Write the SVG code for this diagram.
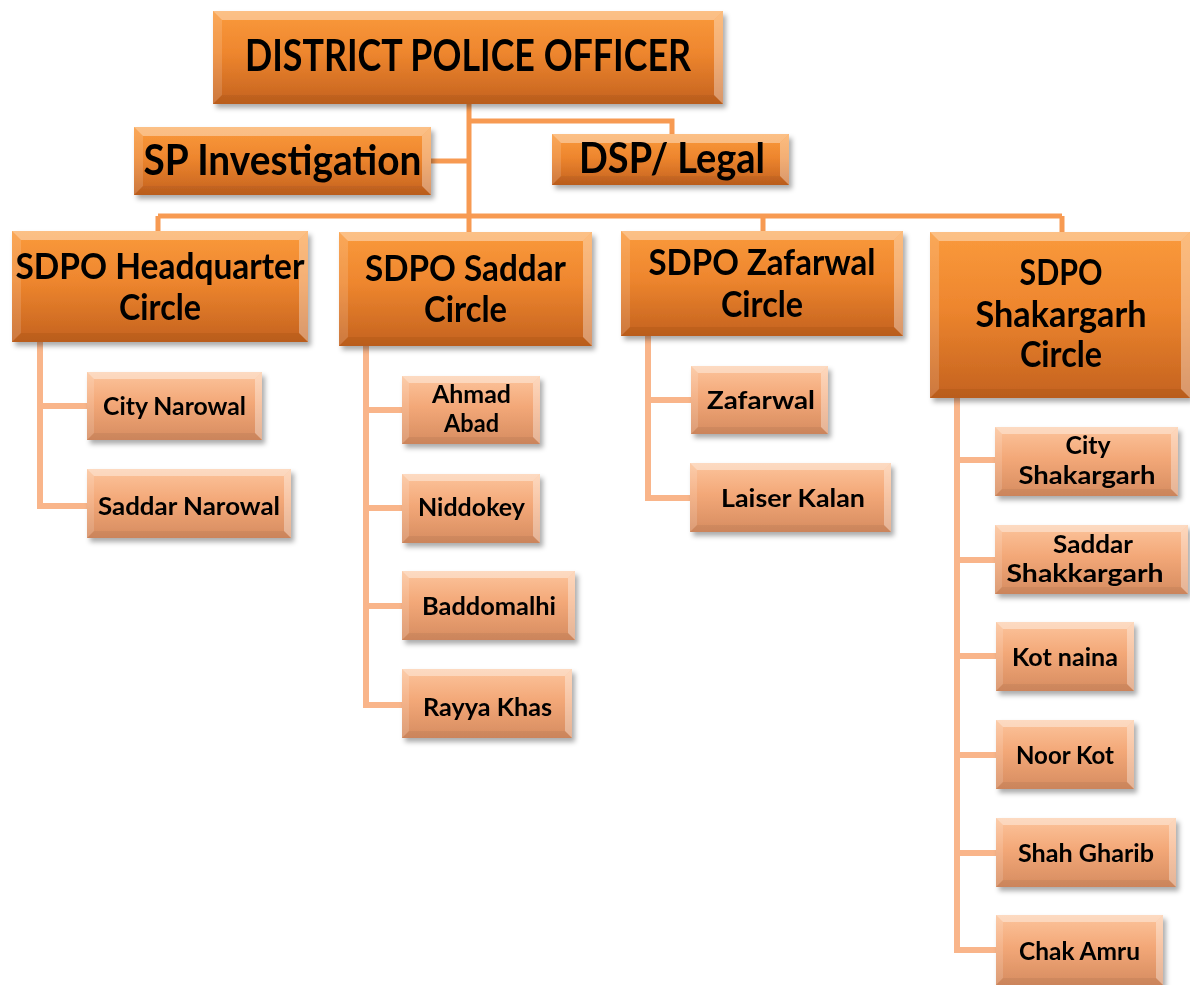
<svg xmlns="http://www.w3.org/2000/svg" width="1190" height="985" viewBox="0 0 1190 985">
<defs>
<linearGradient id="gBig" x1="0" y1="0" x2="0" y2="1">
<stop offset="0" stop-color="#FA9A3C"/>
<stop offset="0.45" stop-color="#EE862E"/>
<stop offset="1" stop-color="#C4621F"/>
</linearGradient>
<linearGradient id="gSmall" x1="0" y1="0" x2="0" y2="1">
<stop offset="0" stop-color="#FCC49C"/>
<stop offset="0.45" stop-color="#F3A878"/>
<stop offset="1" stop-color="#D68C60"/>
</linearGradient>
<filter id="sh" x="-10%" y="-10%" width="125%" height="135%">
<feDropShadow dx="3" dy="4" stdDeviation="2.5" flood-color="#000" flood-opacity="0.33"/>
</filter>
</defs>
<style>
.big{fill:url(#gBig)}
.small{fill:url(#gSmall)}
.bt{fill:#fff;fill-opacity:0.38}
.bl{fill:#fff;fill-opacity:0.14}
.br{fill:#fff;fill-opacity:0.34}
.bb{fill:#000;fill-opacity:0.05}
text{font-family:Lato,"Liberation Sans",sans-serif;font-weight:700;fill:#000;text-anchor:middle}
.t1{font-size:43px}
.t2{font-size:42px}
.t3{font-size:36px}
.t4{font-size:25px}
.c1{fill:none;stroke:#F79A52;stroke-width:5}
.c2{fill:none;stroke:#F9B58A;stroke-width:6}
</style>

<g id="connectors">
<path class="c1" d="M469,104 V232 M469,121 H672 V134 M431,161 H469 M158,216 H1062 M158,216 V231 M763,216 V231 M1062,216 V232"/>
<path class="c2" d="M40,342 V506 H87 M40,406 H87"/>
<path class="c2" d="M366,346 V705 H402 M366,410 H402 M366,508 H402 M366,606 H402"/>
<path class="c2" d="M648,336 V498 H690 M648,400 H691"/>
<path class="c2" d="M957,398 V950 H996 M957,460 H995 M957,560 H995 M957,656 H996 M957,755 H996 M957,853 H996"/>
</g>

<g id="dpo" transform="translate(213,11)" filter="url(#sh)">
<rect class="big" width="510" height="93"/>
<polygon class="bt" points="0,0 510,0 501,9 9,9"/><polygon class="bl" points="0,0 9,9 9,84 0,93"/><polygon class="br" points="510,0 510,93 501,84 501,9"/><polygon class="bb" points="0,93 510,93 501,84 9,84"/>
<text class="t1" x="255" y="60" textLength="446" lengthAdjust="spacingAndGlyphs">DISTRICT POLICE OFFICER</text>
</g>

<g id="sp" transform="translate(134,127)" filter="url(#sh)">
<rect class="big" width="297" height="68"/>
<polygon class="bt" points="0,0 297,0 288,9 9,9"/><polygon class="bl" points="0,0 9,9 9,59 0,68"/><polygon class="br" points="297,0 297,68 288,59 288,9"/><polygon class="bb" points="0,68 297,68 288,59 9,59"/>
<text class="t2" x="148.5" y="48" textLength="278" lengthAdjust="spacingAndGlyphs">SP Investigation</text>
</g>

<g id="dsp" transform="translate(552,134)" filter="url(#sh)">
<rect class="big" width="237" height="51"/>
<polygon class="bt" points="0,0 237,0 228,9 9,9"/><polygon class="bl" points="0,0 9,9 9,42 0,51"/><polygon class="br" points="237,0 237,51 228,42 228,9"/><polygon class="bb" points="0,51 237,51 228,42 9,42"/>
<text class="t2" x="120" y="39" textLength="186" lengthAdjust="spacingAndGlyphs">DSP/ Legal</text>
</g>

<g id="sdpo-hq" transform="translate(12,231)" filter="url(#sh)">
<rect class="big" width="296" height="111"/>
<polygon class="bt" points="0,0 296,0 287,9 9,9"/><polygon class="bl" points="0,0 9,9 9,102 0,111"/><polygon class="br" points="296,0 296,111 287,102 287,9"/><polygon class="bb" points="0,111 296,111 287,102 9,102"/>
<text class="t3" x="148" y="48" textLength="289" lengthAdjust="spacingAndGlyphs">SDPO Headquarter</text>
<text class="t3" x="148" y="89" textLength="82" lengthAdjust="spacingAndGlyphs">Circle</text>
</g>

<g id="sdpo-saddar" transform="translate(339,232)" filter="url(#sh)">
<rect class="big" width="253" height="114"/>
<polygon class="bt" points="0,0 253,0 244,9 9,9"/><polygon class="bl" points="0,0 9,9 9,105 0,114"/><polygon class="br" points="253,0 253,114 244,105 244,9"/><polygon class="bb" points="0,114 253,114 244,105 9,105"/>
<text class="t3" x="126.5" y="49" textLength="201" lengthAdjust="spacingAndGlyphs">SDPO Saddar</text>
<text class="t3" x="126.5" y="90" textLength="83" lengthAdjust="spacingAndGlyphs">Circle</text>
</g>

<g id="sdpo-zafarwal" transform="translate(621,231)" filter="url(#sh)">
<rect class="big" width="282" height="105"/>
<polygon class="bt" points="0,0 282,0 273,9 9,9"/><polygon class="bl" points="0,0 9,9 9,96 0,105"/><polygon class="br" points="282,0 282,105 273,96 273,9"/><polygon class="bb" points="0,105 282,105 273,96 9,96"/>
<text class="t3" x="141" y="44" textLength="227" lengthAdjust="spacingAndGlyphs">SDPO Zafarwal</text>
<text class="t3" x="141" y="86" textLength="82" lengthAdjust="spacingAndGlyphs">Circle</text>
</g>

<g id="sdpo-shakargarh" transform="translate(930,232)" filter="url(#sh)">
<rect class="big" width="260" height="166"/>
<polygon class="bt" points="0,0 260,0 251,9 9,9"/><polygon class="bl" points="0,0 9,9 9,157 0,166"/><polygon class="br" points="260,0 260,166 251,157 251,9"/><polygon class="bb" points="0,166 260,166 251,157 9,157"/>
<text class="t3" x="131" y="53" textLength="83" lengthAdjust="spacingAndGlyphs">SDPO</text>
<text class="t3" x="131" y="95" textLength="171" lengthAdjust="spacingAndGlyphs">Shakargarh</text>
<text class="t3" x="131" y="135" textLength="82" lengthAdjust="spacingAndGlyphs">Circle</text>
</g>

<g id="city-narowal" transform="translate(87,372)" filter="url(#sh)">
<rect class="small" width="175" height="68"/>
<polygon class="bt" points="0,0 175,0 168,7 7,7"/><polygon class="bl" points="0,0 7,7 7,61 0,68"/><polygon class="br" points="175,0 175,68 168,61 168,7"/><polygon class="bb" points="0,68 175,68 168,61 7,61"/>
<text class="t4" x="87.5" y="43" textLength="143" lengthAdjust="spacingAndGlyphs">City Narowal</text>
</g>

<g id="saddar-narowal" transform="translate(87,469)" filter="url(#sh)">
<rect class="small" width="204" height="69"/>
<polygon class="bt" points="0,0 204,0 197,7 7,7"/><polygon class="bl" points="0,0 7,7 7,62 0,69"/><polygon class="br" points="204,0 204,69 197,62 197,7"/><polygon class="bb" points="0,69 204,69 197,62 7,62"/>
<text class="t4" x="102" y="46" textLength="182" lengthAdjust="spacingAndGlyphs">Saddar  Narowal</text>
</g>

<g id="ahmad-abad" transform="translate(402,376)" filter="url(#sh)">
<rect class="small" width="138" height="68"/>
<polygon class="bt" points="0,0 138,0 131,7 7,7"/><polygon class="bl" points="0,0 7,7 7,61 0,68"/><polygon class="br" points="138,0 138,68 131,61 131,7"/><polygon class="bb" points="0,68 138,68 131,61 7,61"/>
<text class="t4" x="69.5" y="27" textLength="79" lengthAdjust="spacingAndGlyphs">Ahmad</text>
<text class="t4" x="69.5" y="56" textLength="55" lengthAdjust="spacingAndGlyphs">Abad</text>
</g>

<g id="niddokey" transform="translate(402,474)" filter="url(#sh)">
<rect class="small" width="138" height="69"/>
<polygon class="bt" points="0,0 138,0 131,7 7,7"/><polygon class="bl" points="0,0 7,7 7,62 0,69"/><polygon class="br" points="138,0 138,69 131,62 131,7"/><polygon class="bb" points="0,69 138,69 131,62 7,62"/>
<text class="t4" x="69.5" y="42" textLength="107" lengthAdjust="spacingAndGlyphs">Niddokey</text>
</g>

<g id="baddomalhi" transform="translate(402,571)" filter="url(#sh)">
<rect class="small" width="173" height="69"/>
<polygon class="bt" points="0,0 173,0 166,7 7,7"/><polygon class="bl" points="0,0 7,7 7,62 0,69"/><polygon class="br" points="173,0 173,69 166,62 166,7"/><polygon class="bb" points="0,69 173,69 166,62 7,62"/>
<text class="t4" x="87" y="44" textLength="134" lengthAdjust="spacingAndGlyphs">Baddomalhi</text>
</g>

<g id="rayya-khas" transform="translate(402,669)" filter="url(#sh)">
<rect class="small" width="170" height="69"/>
<polygon class="bt" points="0,0 170,0 163,7 7,7"/><polygon class="bl" points="0,0 7,7 7,62 0,69"/><polygon class="br" points="170,0 170,69 163,62 163,7"/><polygon class="bb" points="0,69 170,69 163,62 7,62"/>
<text class="t4" x="85.5" y="47" textLength="129" lengthAdjust="spacingAndGlyphs">Rayya  Khas</text>
</g>

<g id="zafarwal" transform="translate(691,366)" filter="url(#sh)">
<rect class="small" width="137" height="68"/>
<polygon class="bt" points="0,0 137,0 130,7 7,7"/><polygon class="bl" points="0,0 7,7 7,61 0,68"/><polygon class="br" points="137,0 137,68 130,61 130,7"/><polygon class="bb" points="0,68 137,68 130,61 7,61"/>
<text class="t4" x="70" y="43" textLength="108" lengthAdjust="spacingAndGlyphs">Zafarwal</text>
</g>

<g id="laiser-kalan" transform="translate(690,463)" filter="url(#sh)">
<rect class="small" width="201" height="69"/>
<polygon class="bt" points="0,0 201,0 194,7 7,7"/><polygon class="bl" points="0,0 7,7 7,62 0,69"/><polygon class="br" points="201,0 201,69 194,62 194,7"/><polygon class="bb" points="0,69 201,69 194,62 7,62"/>
<text class="t4" x="103" y="44" textLength="144" lengthAdjust="spacingAndGlyphs">Laiser Kalan</text>
</g>

<g id="city-shakargarh" transform="translate(995,427)" filter="url(#sh)">
<rect class="small" width="183" height="69"/>
<polygon class="bt" points="0,0 183,0 176,7 7,7"/><polygon class="bl" points="0,0 7,7 7,62 0,69"/><polygon class="br" points="183,0 183,69 176,62 176,7"/><polygon class="bb" points="0,69 183,69 176,62 7,62"/>
<text class="t4" x="93" y="27" textLength="45" lengthAdjust="spacingAndGlyphs">City</text>
<text class="t4" x="92" y="57" textLength="137" lengthAdjust="spacingAndGlyphs">Shakargarh</text>
</g>

<g id="saddar-shakkargarh" transform="translate(995,525)" filter="url(#sh)">
<rect class="small" width="193" height="69"/>
<polygon class="bt" points="0,0 193,0 186,7 7,7"/><polygon class="bl" points="0,0 7,7 7,62 0,69"/><polygon class="br" points="193,0 193,69 186,62 186,7"/><polygon class="bb" points="0,69 193,69 186,62 7,62"/>
<text class="t4" x="98" y="28" textLength="80" lengthAdjust="spacingAndGlyphs">Saddar</text>
<text class="t4" x="90" y="57" textLength="157" lengthAdjust="spacingAndGlyphs">Shakkargarh</text>
</g>

<g id="kot-naina" transform="translate(996,622)" filter="url(#sh)">
<rect class="small" width="138" height="69"/>
<polygon class="bt" points="0,0 138,0 131,7 7,7"/><polygon class="bl" points="0,0 7,7 7,62 0,69"/><polygon class="br" points="138,0 138,69 131,62 131,7"/><polygon class="bb" points="0,69 138,69 131,62 7,62"/>
<text class="t4" x="69" y="44" textLength="106" lengthAdjust="spacingAndGlyphs">Kot naina</text>
</g>

<g id="noor-kot" transform="translate(996,720)" filter="url(#sh)">
<rect class="small" width="138" height="69"/>
<polygon class="bt" points="0,0 138,0 131,7 7,7"/><polygon class="bl" points="0,0 7,7 7,62 0,69"/><polygon class="br" points="138,0 138,69 131,62 131,7"/><polygon class="bb" points="0,69 138,69 131,62 7,62"/>
<text class="t4" x="69" y="44" textLength="98" lengthAdjust="spacingAndGlyphs">Noor Kot</text>
</g>

<g id="shah-gharib" transform="translate(996,818)" filter="url(#sh)">
<rect class="small" width="180" height="69"/>
<polygon class="bt" points="0,0 180,0 173,7 7,7"/><polygon class="bl" points="0,0 7,7 7,62 0,69"/><polygon class="br" points="180,0 180,69 173,62 173,7"/><polygon class="bb" points="0,69 180,69 173,62 7,62"/>
<text class="t4" x="90" y="44" textLength="136" lengthAdjust="spacingAndGlyphs">Shah Gharib</text>
</g>

<g id="chak-amru" transform="translate(996,915)" filter="url(#sh)">
<rect class="small" width="167" height="70"/>
<polygon class="bt" points="0,0 167,0 160,7 7,7"/><polygon class="bl" points="0,0 7,7 7,63 0,70"/><polygon class="br" points="167,0 167,70 160,63 160,7"/><polygon class="bb" points="0,70 167,70 160,63 7,63"/>
<text class="t4" x="83.5" y="45" textLength="121" lengthAdjust="spacingAndGlyphs">Chak Amru</text>
</g>
</svg>
